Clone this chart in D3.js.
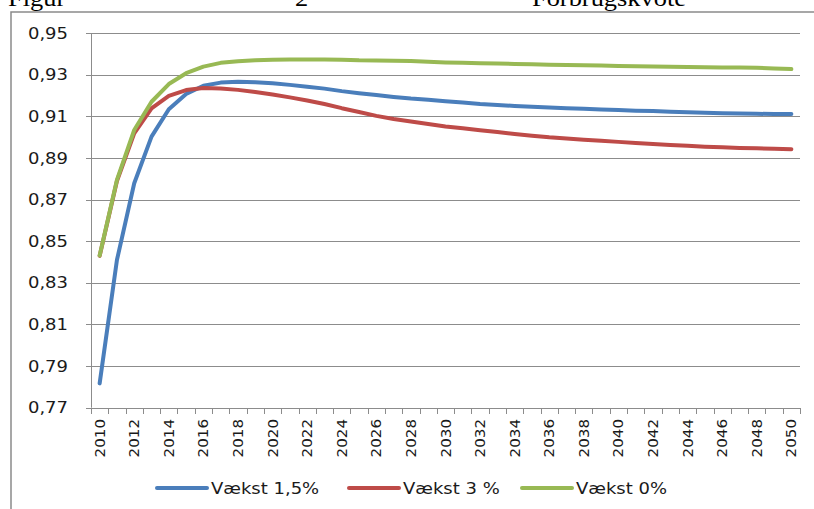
<!DOCTYPE html>
<html>
<head>
<meta charset="utf-8">
<script src="https://cdn.jsdelivr.net/npm/d3@7"></script>
<style>
html,body{margin:0;padding:0;background:#fff;}
svg{display:block;}
</style>
</head>
<body>
<svg id="chart" width="814" height="509"></svg>
<script>
const years = d3.range(2010, 2051);
const tickLabels = ["0,77","0,79","0,81","0,83","0,85","0,87","0,89","0,91","0,93","0,95"];
const tickValues = [0.77,0.79,0.81,0.83,0.85,0.87,0.89,0.91,0.93,0.95];
const seriesNames = ["Vækst 1,5%", "Vækst 3 %", "Vækst 0%"];
const vaekst15 = [0.7817,0.8410,0.8779,0.9003,0.9135,0.9208,0.9248,0.9263,0.9267,0.9265,
  0.9260,0.9252,0.9243,0.9234,0.9222,0.9212,0.9203,0.9194,0.9186,0.9180,
  0.9173,0.9167,0.9160,0.9155,0.9151,0.9147,0.9143,0.9140,0.9137,0.9134,
  0.9131,0.9128,0.9126,0.9123,0.9120,0.9118,0.9116,0.9114,0.9113,0.9112,0.9112];
const vaekst3 = [0.8430,0.8790,0.9019,0.9139,0.9199,0.9227,0.9237,0.9235,0.9228,0.9218,
  0.9206,0.9192,0.9177,0.9160,0.9140,0.9122,0.9103,0.9088,0.9076,0.9064,
  0.9052,0.9043,0.9034,0.9025,0.9016,0.9008,0.9000,0.8994,0.8988,0.8983,
  0.8978,0.8973,0.8968,0.8963,0.8959,0.8955,0.8952,0.8949,0.8947,0.8945,0.8943];
const vaekst0 = [0.8432,0.8795,0.9035,0.9171,0.9256,0.9308,0.9340,0.9358,0.9366,0.9370,
  0.9373,0.9374,0.9374,0.9374,0.9373,0.9370,0.9369,0.9368,0.9367,0.9363,
  0.9360,0.9358,0.9356,0.9355,0.9353,0.9351,0.9349,0.9347,0.9346,0.9345,
  0.9343,0.9341,0.9340,0.9339,0.9338,0.9337,0.9336,0.9335,0.9334,0.9331,0.9328];
const colors = ["#4A7EBB", "#BE4B48", "#98B954"];
const seriesData = [vaekst15, vaekst3, vaekst0];

const svg = d3.select("#chart");
const mLeft = 91, mRight = 800, mTop = 33.3, mBottom = 407.7;
const x = d3.scaleBand().domain(years).range([mLeft, mRight]).padding(0);
const y = d3.scaleLinear().domain([0.77, 0.95]).range([mBottom, mTop]);
const cx = d => x(d) + x.bandwidth() / 2;
const gridColor = "#8c8c8c";
const font = "'DejaVu Sans', Verdana, sans-serif";
const sx = 1.2;

// title (clipped at top, as in the reference)
const title = svg.append("g").attr("font-family", "'Liberation Serif','Times New Roman',serif").attr("font-size", 24).attr("fill", "#000");
[["Figur", 8], ["2", 295], ["Forbrugskvote", 532]].forEach(([t, px]) => {
  title.append("text").attr("transform", `translate(${px},6) scale(1.1,1)`).text(t);
});

// frame
svg.append("path").attr("d", `M11,509 V12 H814`).attr("fill", "none").attr("stroke", "#8a8a8a").attr("stroke-width", 1.5);

// gridlines
svg.append("g").selectAll("line").data(tickValues).join("line")
  .attr("x1", mLeft - 5).attr("x2", mRight)
  .attr("y1", d => Math.round(y(d)) + 0.5).attr("y2", d => Math.round(y(d)) + 0.5)
  .attr("stroke", gridColor).attr("stroke-width", 1);

// y axis line
svg.append("line").attr("x1", mLeft + 0.5).attr("x2", mLeft + 0.5).attr("y1", y(0.95)).attr("y2", y(0.77))
  .attr("stroke", gridColor).attr("stroke-width", 1);

// y labels
svg.append("g").selectAll("text").data(tickValues).join("text")
  .attr("transform", d => `translate(68,${y(d) + 5.5}) scale(${sx},1)`)
  .attr("text-anchor", "end").attr("font-family", font).attr("font-size", 15).attr("fill", "#1a1a1a")
  .text((d, i) => tickLabels[i]);

// x ticks at category boundaries
const boundaries = years.map(d => x(d)).concat([mRight]);
svg.append("g").selectAll("line").data(boundaries).join("line")
  .attr("x1", d => Math.round(d) + 0.5).attr("x2", d => Math.round(d) + 0.5)
  .attr("y1", Math.round(mBottom)).attr("y2", Math.round(mBottom) + 6)
  .attr("stroke", gridColor).attr("stroke-width", 1);

// x labels
svg.append("g").selectAll("text").data(years.filter(d => (d - 2010) % 2 === 0)).join("text")
  .attr("transform", d => `translate(${cx(d) + 5},419) rotate(-90) scale(1.08,1)`)
  .attr("text-anchor", "end").attr("font-family", font).attr("font-size", 14).attr("fill", "#1a1a1a")
  .text(d => d);

// lines
const line = d3.line().x((d, i) => cx(years[i])).y(d => y(d));
seriesData.forEach((s, k) => {
  svg.append("path").datum(s).attr("d", line).attr("fill", "none")
    .attr("stroke", colors[k]).attr("stroke-width", 4)
    .attr("stroke-linejoin", "round").attr("stroke-linecap", "round");
});

// legend
const legendX = [157, 349, 522];
seriesNames.forEach((n, k) => {
  const g = svg.append("g").attr("transform", `translate(${legendX[k]},488)`);
  g.append("line").attr("x1", 0).attr("x2", 50).attr("y1", 0).attr("y2", 0)
    .attr("stroke", colors[k]).attr("stroke-width", 4).attr("stroke-linecap", "round");
  g.append("text").attr("transform", `translate(54,5.5) scale(${sx},1)`)
    .attr("font-family", font).attr("font-size", 15).attr("fill", "#1a1a1a").text(n);
});
</script>
</body>
</html>
